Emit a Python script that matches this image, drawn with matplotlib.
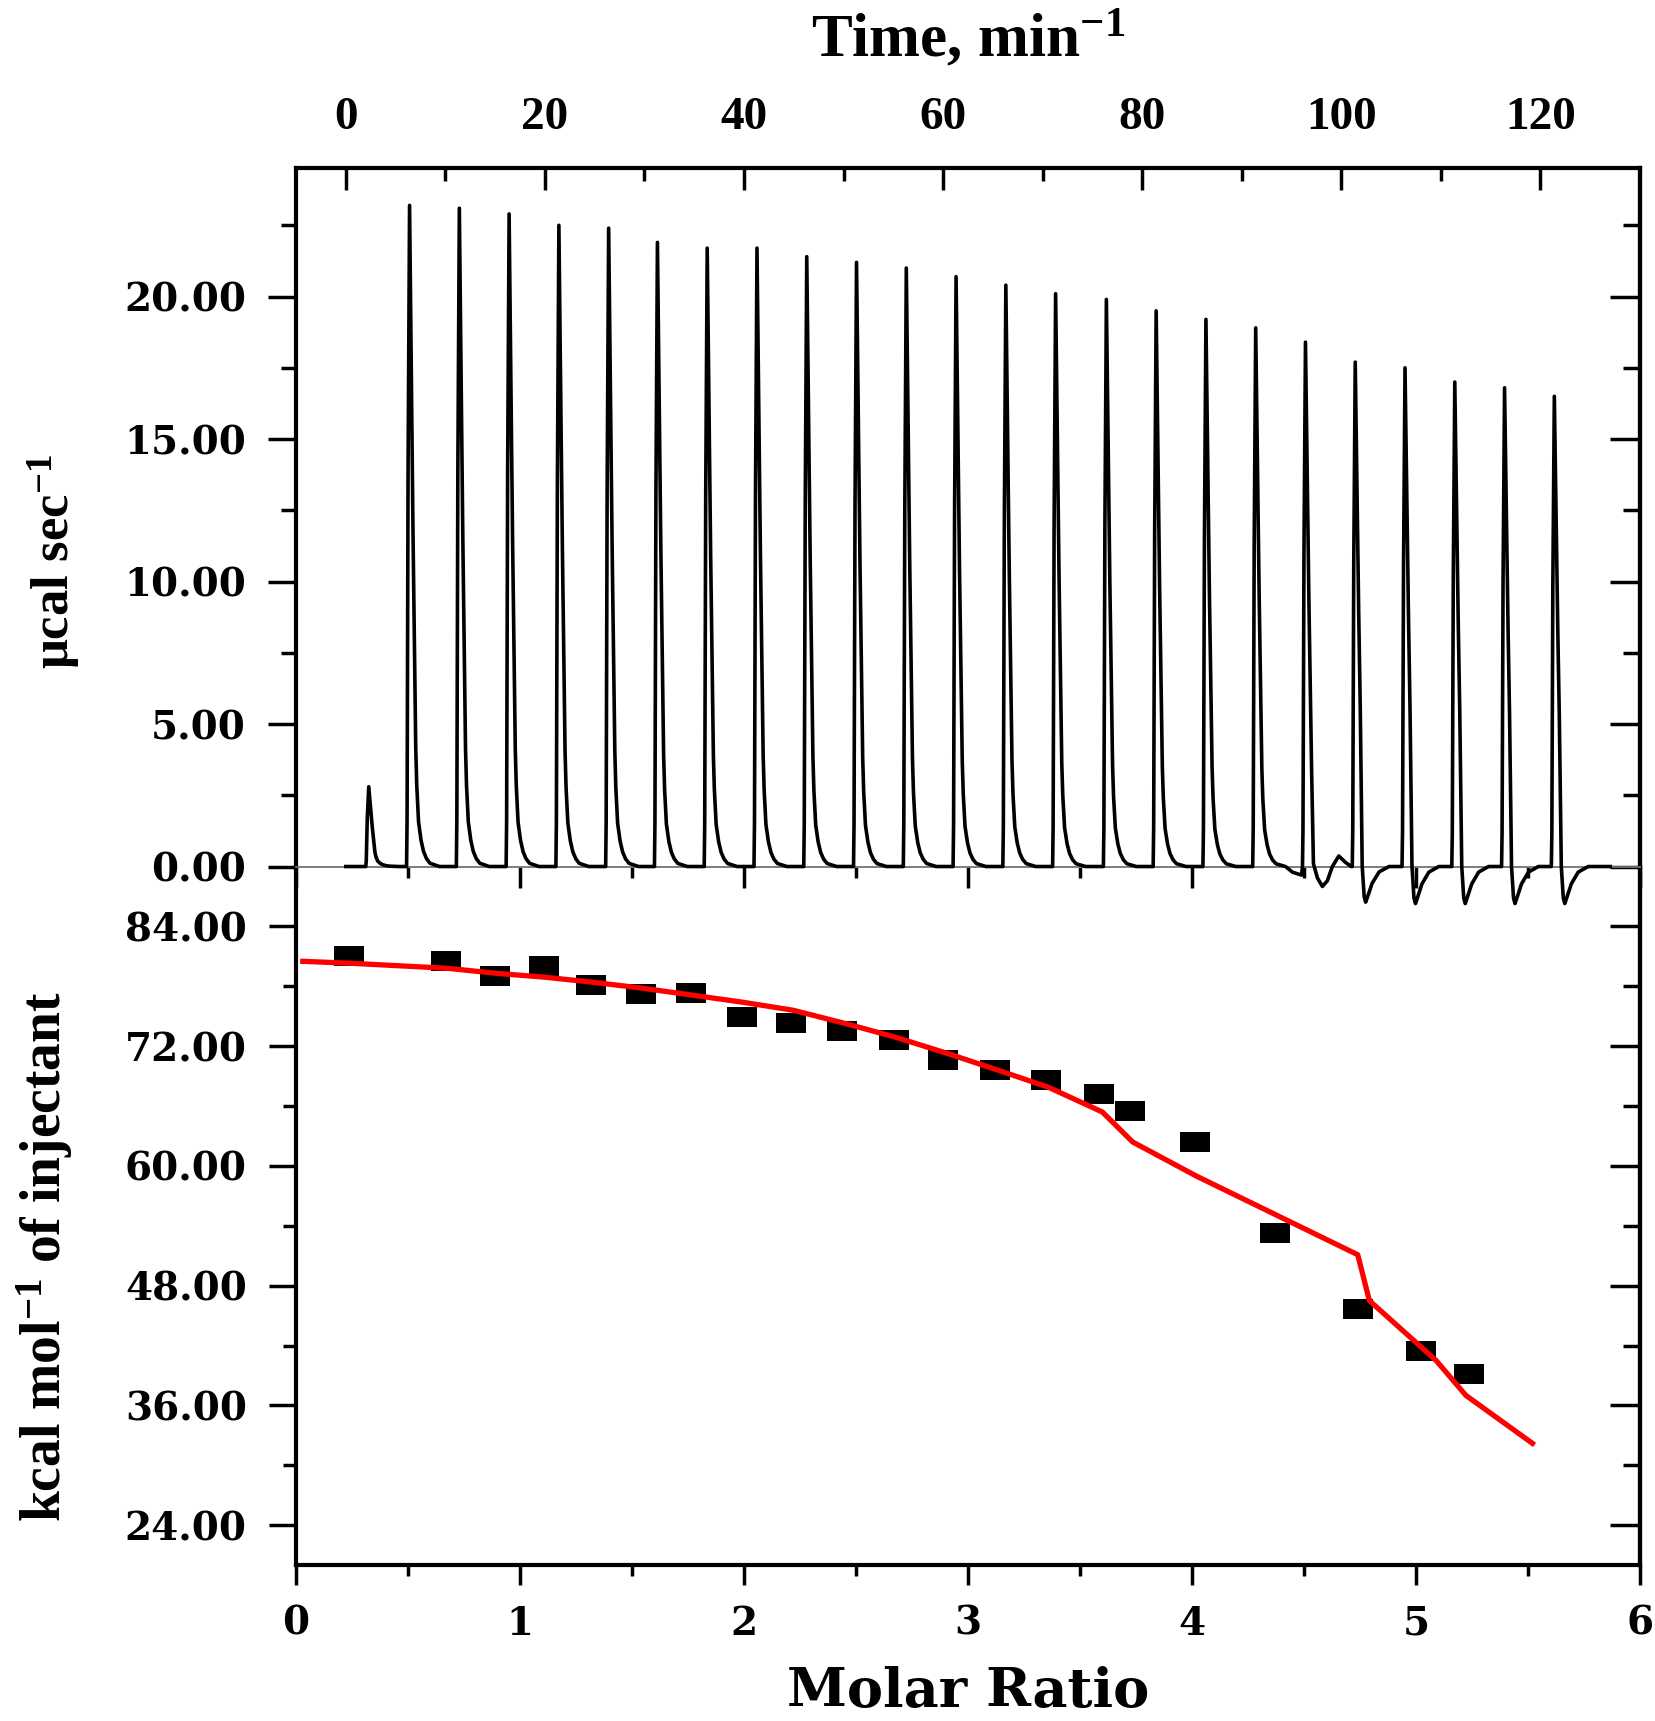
import matplotlib
matplotlib.use("Agg")
import matplotlib.pyplot as plt
from matplotlib.ticker import MultipleLocator, FixedLocator, FormatStrFormatter

plt.rcParams['font.family'] = 'DejaVu Serif'
plt.rcParams['font.weight'] = 'bold'
plt.rcParams['mathtext.fontset'] = 'custom'
plt.rcParams['mathtext.rm'] = 'Liberation Serif:bold'
plt.rcParams['mathtext.bf'] = 'Liberation Serif:bold'
plt.rcParams['mathtext.it'] = 'Liberation Serif:bold'

# ---- upper panel: raw heat flow, one peak per injection ----
inj_time = [2.0, 6.1, 11.1, 16.1, 21.1, 26.1, 31.0, 36.0, 41.0, 46.0, 51.0, 56.0, 61.0,
            66.0, 71.0, 76.1, 81.1, 86.1, 91.1, 96.1, 101.1, 106.1, 111.1, 116.1, 121.1]
inj_height = [2.8, 23.2, 23.1, 22.9, 22.5, 22.4, 21.9, 21.7, 21.7, 21.4, 21.2, 21.0, 20.7,
              20.4, 20.1, 19.9, 19.5, 19.2, 18.9, 18.4, 17.7, 17.5, 17.0, 16.8, 16.5]
# undershoot below the baseline after the last injections (ucal/s)
dip_depth = [0, 0, 0, 0, 0, 0, 0, 0, 0, 0, 0, 0, 0,
             0, 0, 0, 0, 0, 0, 0, -1.25, -1.3, -1.3, -1.3, -1.3]

shape_dt = [0.0, 0.05, 0.15, 0.3, 0.5, 0.65, 0.8, 0.92, 1.02, 1.2, 1.45, 1.7, 2.0, 2.35, 3.3]
shape_frac = [0.0, 0.07, 0.6, 1.0, 0.72, 0.5, 0.32, 0.18, 0.124, 0.068, 0.04, 0.023, 0.012, 0.005, 0.0]
n_head = 7
dip_dt = [1.0, 1.2, 1.35, 1.6, 2.0, 2.7, 3.7]
dip_frac = [0.0, 0.85, 1.0, 0.8, 0.47, 0.15, 0.0]
# baseline drift after injection 18 and wiggle after injection 19
drift_dt = [4.0, 4.9]
drift_val = [-0.2, -0.3]
wave_dt = [1.1, 1.5, 2.0, 2.5, 3.0, 3.65, 4.3, 4.9]
wave_val = [0.1, -0.4, -0.7, -0.5, 0.0, 0.37, 0.15, 0.0]
trace_end = 127.0

# ---- lower panel: integrated heats ----
molar_ratio = [0.236, 0.668, 0.889, 1.106, 1.317, 1.538, 1.764, 1.99, 2.211, 2.437, 2.668,
               2.89, 3.12, 3.346, 3.587, 3.725, 4.015, 4.369, 4.742, 5.022, 5.238]
heat = [81.0, 80.5, 79.0, 80.0, 78.1, 77.2, 77.3, 74.9, 74.3, 73.5, 72.6,
        70.6, 69.6, 68.6, 67.2, 65.5, 62.4, 53.3, 45.7, 41.5, 39.1]
fit_x = [0.03, 0.25, 0.676, 0.893, 1.115, 1.327, 1.549, 1.773, 1.995, 2.219, 2.447, 2.676,
         2.904, 3.133, 3.357, 3.60, 3.735, 4.018, 4.42, 4.74, 4.792, 5.09, 5.223, 5.52]
fit_y = [80.5, 80.3, 79.8, 79.3, 78.9, 78.4, 77.8, 77.1, 76.4, 75.6, 74.3, 72.9,
         71.3, 69.6, 67.9, 65.4, 62.4, 59.0, 54.6, 51.1, 46.5, 40.5, 37.0, 32.2]

# build the trace vertices
trace_t = [0.0]
trace_v = [0.0]
for i in range(len(inj_time)):
    t0 = inj_time[i]
    h = inj_height[i]
    if dip_depth[i] < 0:
        dts = shape_dt[:n_head] + dip_dt
        vals = [f * h for f in shape_frac[:n_head]] + [f * dip_depth[i] for f in dip_frac]
    elif i == 19:
        dts = shape_dt[:n_head + 1] + wave_dt
        vals = [f * h for f in shape_frac[:n_head + 1]] + wave_val
    else:
        dts = list(shape_dt)
        vals = [f * h for f in shape_frac]
        if i == 18:
            dts = dts + drift_dt
            vals = vals + drift_val
    trace_t += [t0 + d for d in dts]
    trace_v += vals
trace_t.append(trace_end)
trace_v.append(0.0)

fig = plt.figure(figsize=(16.55, 17.21), dpi=100)
left, width = 0.1789, 0.812
ax2 = fig.add_axes([left, 0.0906, width, 0.4059])
ax1 = fig.add_axes([left, 0.4965, width, 0.4057])
ax1.set_facecolor('none')

spine_w = 3.0
tick_w = 2.5

# upper panel
ax1.plot(trace_t, trace_v, color='black', lw=2.6, clip_on=False, zorder=3)
ax1.set_xlim(-5, 130)
ax1.set_ylim(0, 24.5)
for s in ['top', 'left', 'right']:
    ax1.spines[s].set_linewidth(spine_w)
ax1.spines['bottom'].set_linewidth(1.3)
ax1.spines['bottom'].set_color('0.45')
ax1.xaxis.set_major_locator(MultipleLocator(20))
ax1.xaxis.set_minor_locator(FixedLocator([10, 30, 50, 70, 90, 110]))
ax1.tick_params(axis='x', which='both', direction='in', top=True, bottom=False,
                labeltop=True, labelbottom=False, width=tick_w, pad=21,
                labelsize=34, labelfontfamily='Liberation Serif')
ax1.tick_params(axis='x', which='major', length=16)
ax1.tick_params(axis='x', which='minor', length=9.5)
ax1.yaxis.set_major_locator(MultipleLocator(5))
ax1.yaxis.set_minor_locator(FixedLocator([2.5, 7.5, 12.5, 17.5, 22.5]))
ax1.yaxis.set_major_formatter(FormatStrFormatter('%.2f'))
ax1.tick_params(axis='y', which='both', direction='out', left=True, right=False,
                width=tick_w, pad=16, labelsize=28)
ax1.tick_params(axis='y', which='major', length=20)
ax1.tick_params(axis='y', which='minor', length=10.5)
ax1r = ax1.secondary_yaxis('right')
ax1r.yaxis.set_major_locator(MultipleLocator(5))
ax1r.yaxis.set_minor_locator(FixedLocator([2.5, 7.5, 12.5, 17.5, 22.5]))
ax1r.tick_params(axis='y', which='both', direction='in', width=tick_w, labelright=False)
ax1r.tick_params(axis='y', which='major', length=21.5)
ax1r.tick_params(axis='y', which='minor', length=12)
ax1r.spines['right'].set_linewidth(spine_w)

# lower panel
verts = [(-1, -0.69), (1, -0.69), (1, 0.69), (-1, 0.69), (-1, -0.69)]
ax2.plot(molar_ratio, heat, linestyle='none', marker=verts, markersize=21.6,
         color='black', markeredgewidth=0, zorder=3)
ax2.plot(fit_x, fit_y, color='#ff0000', lw=3.8, zorder=4)
ax2.set_xlim(0, 6)
ax2.set_ylim(20, 90)
ax2.spines['top'].set_visible(False)
for s in ['bottom', 'left', 'right']:
    ax2.spines[s].set_linewidth(spine_w)
ax2.xaxis.set_major_locator(MultipleLocator(1))
ax2.xaxis.set_minor_locator(MultipleLocator(0.5))
ax2.tick_params(axis='x', which='both', direction='out', width=tick_w, pad=14, labelsize=28)
ax2.tick_params(axis='x', which='major', length=14.5)
ax2.tick_params(axis='x', which='minor', length=8)
ax2.yaxis.set_major_locator(MultipleLocator(12))
ax2.yaxis.set_minor_locator(FixedLocator([30, 42, 54, 66, 78]))
ax2.yaxis.set_major_formatter(FormatStrFormatter('%.2f'))
ax2.tick_params(axis='y', which='both', direction='out', width=tick_w, pad=16, labelsize=28)
ax2.tick_params(axis='y', which='major', length=19.5)
ax2.tick_params(axis='y', which='minor', length=9.5)
ax2t = ax2.secondary_xaxis('top')
ax2t.xaxis.set_major_locator(MultipleLocator(1))
ax2t.xaxis.set_minor_locator(MultipleLocator(0.5))
ax2t.tick_params(axis='x', which='both', direction='in', width=tick_w, labeltop=False)
ax2t.tick_params(axis='x', which='major', length=15)
ax2t.tick_params(axis='x', which='minor', length=8)
ax2t.spines['top'].set_visible(False)
ax2r = ax2.secondary_yaxis('right')
ax2r.yaxis.set_major_locator(MultipleLocator(12))
ax2r.yaxis.set_minor_locator(FixedLocator([30, 42, 54, 66, 78]))
ax2r.tick_params(axis='y', which='both', direction='in', width=tick_w, labelright=False)
ax2r.tick_params(axis='y', which='major', length=21.5)
ax2r.tick_params(axis='y', which='minor', length=12)
ax2r.spines['right'].set_linewidth(spine_w)

# axis titles
fig.text(0.585, 0.967, 'Time, min$^{-1}$', ha='center', va='baseline',
         family='Liberation Serif', fontsize=44, fontweight='bold')
fig.text(0.585, 0.008, 'Molar Ratio', ha='center', va='baseline',
         family='DejaVu Serif', fontsize=39, fontweight='bold')
fig.text(0.033, 0.674, 'μcal sec$^{-1}$', ha='center', va='center', rotation=90,
         family='Liberation Serif', fontsize=38, fontweight='bold')
fig.text(0.027, 0.2696, 'kcal mol$^{-1}$ of injectant', ha='center', va='center', rotation=90,
         family='Liberation Serif', fontsize=40, fontweight='bold')

fig.savefig('out.png', dpi=100)
